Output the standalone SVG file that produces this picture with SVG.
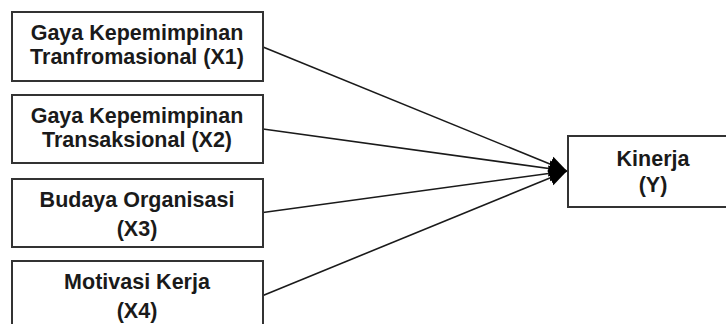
<svg xmlns="http://www.w3.org/2000/svg" width="726" height="324" viewBox="0 0 726 324">
<defs>
<marker id="ah" markerUnits="userSpaceOnUse" markerWidth="20" markerHeight="18" refX="18" refY="9" orient="auto">
<path d="M0,1 L18,9 L0,17 Z" fill="#000"/>
</marker>
<style>
.box{fill:#fff;stroke:#333;stroke-width:2}
.t{font-family:"Liberation Sans",Arial,sans-serif;font-weight:bold;font-size:21.5px;fill:#1a1a1a;text-anchor:middle}
.c{stroke:#1a1a1a;stroke-width:1.6;fill:none;marker-end:url(#ah)}
</style>
</defs>
<rect width="726" height="324" fill="#fff"/>
<g id="connectors">
<line class="c" x1="263" y1="47" x2="567" y2="171"/>
<line class="c" x1="263" y1="129" x2="567" y2="171"/>
<line class="c" x1="263" y1="212.5" x2="567" y2="171"/>
<line class="c" x1="263" y1="295.5" x2="567" y2="171"/>
</g>
<g id="x1">
<rect class="box" x="12" y="12" width="251" height="69"/>
<text class="t" x="137" y="39.5">Gaya Kepemimpinan</text>
<text class="t" x="137" y="64">Tranfromasional (X1)</text>
</g>
<g id="x2">
<rect class="box" x="12" y="95" width="251" height="68"/>
<text class="t" x="137" y="122.5">Gaya Kepemimpinan</text>
<text class="t" x="137" y="147">Transaksional (X2)</text>
</g>
<g id="x3">
<rect class="box" x="12" y="179" width="251" height="68"/>
<text class="t" x="137" y="207">Budaya Organisasi</text>
<text class="t" x="137" y="235.5">(X3)</text>
</g>
<g id="x4">
<rect class="box" x="12" y="261" width="251" height="70"/>
<text class="t" x="137" y="289">Motivasi Kerja</text>
<text class="t" x="137" y="317.5">(X4)</text>
</g>
<g id="y">
<rect class="box" x="568" y="136" width="170" height="71"/>
<text class="t" x="653" y="165.5">Kinerja</text>
<text class="t" x="653" y="192">(Y)</text>
</g>
</svg>
